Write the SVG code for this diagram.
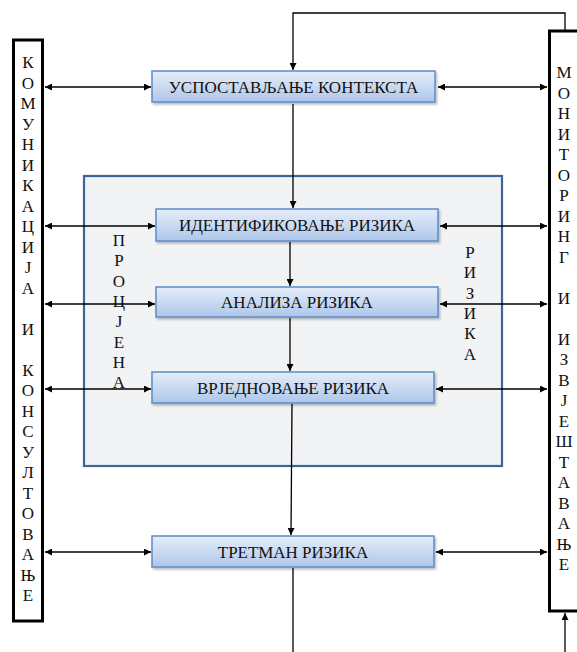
<svg xmlns="http://www.w3.org/2000/svg" width="577" height="652" viewBox="0 0 577 652">
<defs>
<linearGradient id="bg" x1="0" y1="0" x2="0" y2="1">
<stop offset="0" stop-color="#e6eef9"/>
<stop offset="1" stop-color="#adc6ea"/>
</linearGradient>
<filter id="sh" x="-5%" y="-20%" width="110%" height="150%">
<feDropShadow dx="1.5" dy="2" stdDeviation="1.2" flood-color="#000" flood-opacity="0.25"/>
</filter>
<marker id="ah" viewBox="0 0 10 10" refX="10" refY="5" markerWidth="9" markerHeight="7" markerUnits="userSpaceOnUse" orient="auto-start-reverse">
<path d="M0,0 L10,5 L0,10 z" fill="#000"/>
</marker>
</defs>
<style>
.box{fill:url(#bg);stroke:#5b8bc9;stroke-width:1.5;filter:url(#sh)}
.t{font-family:'Liberation Serif','DejaVu Serif',serif;font-size:17px;fill:#111;text-anchor:middle}
.v{font-family:'Liberation Serif','DejaVu Serif',serif;font-size:17px;fill:#111;text-anchor:middle}
.side{fill:#fff;stroke:#000;stroke-width:3}
.c{fill:none;stroke:#000;stroke-width:1.3}
</style>
<rect width="577" height="652" fill="#fff"/>

<g id="assessment">
<rect x="84" y="176" width="418" height="290" fill="#f2f3f5" stroke="#3d6597" stroke-width="2.2"/>
<text class="v" x="119" y="246"><tspan x="119" dy="0">П</tspan><tspan x="119" dy="20.3">Р</tspan><tspan x="119" dy="20.3">О</tspan><tspan x="119" dy="20.3">Ц</tspan><tspan x="119" dy="20.3">Ј</tspan><tspan x="119" dy="20.3">Е</tspan><tspan x="119" dy="20.3">Н</tspan><tspan x="119" dy="20.3">А</tspan></text>
<text class="v" x="470" y="258"><tspan x="470" dy="0">Р</tspan><tspan x="470" dy="20.3">И</tspan><tspan x="470" dy="20.3">З</tspan><tspan x="470" dy="20.3">И</tspan><tspan x="470" dy="20.3">К</tspan><tspan x="470" dy="20.3">А</tspan></text>
</g>

<g id="comm">
<rect class="side" x="13.5" y="40" width="29" height="581"/>
<text class="v" x="28" y="68"><tspan x="28" dy="0">К</tspan><tspan x="28" dy="20.5">О</tspan><tspan x="28" dy="20.5">М</tspan><tspan x="28" dy="20.5">У</tspan><tspan x="28" dy="20.5">Н</tspan><tspan x="28" dy="20.5">И</tspan><tspan x="28" dy="20.5">К</tspan><tspan x="28" dy="20.5">А</tspan><tspan x="28" dy="20.5">Ц</tspan><tspan x="28" dy="20.5">И</tspan><tspan x="28" dy="20.5">Ј</tspan><tspan x="28" dy="20.5">А</tspan><tspan x="28" dy="41">И</tspan><tspan x="28" dy="41">К</tspan><tspan x="28" dy="20.5">О</tspan><tspan x="28" dy="20.5">Н</tspan><tspan x="28" dy="20.5">С</tspan><tspan x="28" dy="20.5">У</tspan><tspan x="28" dy="20.5">Л</tspan><tspan x="28" dy="20.5">Т</tspan><tspan x="28" dy="20.5">О</tspan><tspan x="28" dy="20.5">В</tspan><tspan x="28" dy="20.5">А</tspan><tspan x="28" dy="20.5">Њ</tspan><tspan x="28" dy="20.5">Е</tspan></text>
</g>

<g id="monitor">
<rect class="side" x="549.5" y="31" width="40" height="580"/>
<text class="v" x="564" y="78"><tspan x="564" dy="0">М</tspan><tspan x="564" dy="20.5">О</tspan><tspan x="564" dy="20.5">Н</tspan><tspan x="564" dy="20.5">И</tspan><tspan x="564" dy="20.5">Т</tspan><tspan x="564" dy="20.5">О</tspan><tspan x="564" dy="20.5">Р</tspan><tspan x="564" dy="20.5">И</tspan><tspan x="564" dy="20.5">Н</tspan><tspan x="564" dy="20.5">Г</tspan><tspan x="564" dy="41">И</tspan><tspan x="564" dy="41">И</tspan><tspan x="564" dy="20.5">З</tspan><tspan x="564" dy="20.5">В</tspan><tspan x="564" dy="20.5">Ј</tspan><tspan x="564" dy="20.5">Е</tspan><tspan x="564" dy="20.5">Ш</tspan><tspan x="564" dy="20.5">Т</tspan><tspan x="564" dy="20.5">А</tspan><tspan x="564" dy="20.5">В</tspan><tspan x="564" dy="20.5">А</tspan><tspan x="564" dy="20.5">Њ</tspan><tspan x="564" dy="20.5">Е</tspan></text>
</g>

<g id="context">
<rect class="box" x="152" y="71" width="283" height="31"/>
<text class="t" x="293.5" y="92.5">УСПОСТАВЉАЊЕ КОНТЕКСТА</text>
</g>
<g id="identify">
<rect class="box" x="156" y="209" width="282" height="32"/>
<text class="t" x="297" y="231">ИДЕНТИФИКОВАЊЕ РИЗИКА</text>
</g>
<g id="analysis">
<rect class="box" x="156" y="287" width="282" height="30"/>
<text class="t" x="297" y="308">АНАЛИЗА РИЗИКА</text>
</g>
<g id="evaluation">
<rect class="box" x="152" y="372" width="282" height="31"/>
<text class="t" x="293" y="393.5">ВРЈЕДНОВАЊЕ РИЗИКА</text>
</g>
<g id="treatment">
<rect class="box" x="152" y="536" width="282" height="31"/>
<text class="t" x="293" y="557.5">ТРЕТМАН РИЗИКА</text>
</g>

<g id="connectors">
<polyline class="c" points="565,30 565,13 293,13 293,70" marker-end="url(#ah)"/>
<line class="c" x1="293" y1="104" x2="293" y2="208" marker-end="url(#ah)"/>
<line class="c" x1="290" y1="242" x2="290" y2="286" marker-end="url(#ah)"/>
<line class="c" x1="290" y1="318" x2="290" y2="371" marker-end="url(#ah)"/>
<line class="c" x1="292" y1="404" x2="291" y2="535" marker-end="url(#ah)"/>
<line class="c" x1="293" y1="568" x2="293" y2="652"/>
<line class="c" x1="565" y1="652" x2="565" y2="613" marker-end="url(#ah)"/>

<line class="c" x1="45" y1="87" x2="151" y2="87" marker-start="url(#ah)" marker-end="url(#ah)"/>
<line class="c" x1="45" y1="226" x2="155" y2="226" marker-start="url(#ah)" marker-end="url(#ah)"/>
<line class="c" x1="45" y1="304" x2="155" y2="304" marker-start="url(#ah)" marker-end="url(#ah)"/>
<line class="c" x1="45" y1="389" x2="151" y2="389" marker-start="url(#ah)" marker-end="url(#ah)"/>
<line class="c" x1="45" y1="552" x2="151" y2="552" marker-start="url(#ah)" marker-end="url(#ah)"/>

<line class="c" x1="438" y1="87" x2="547" y2="87" marker-start="url(#ah)" marker-end="url(#ah)"/>
<line class="c" x1="440" y1="226" x2="547" y2="226" marker-start="url(#ah)" marker-end="url(#ah)"/>
<line class="c" x1="440" y1="304" x2="547" y2="304" marker-start="url(#ah)" marker-end="url(#ah)"/>
<line class="c" x1="436" y1="389" x2="547" y2="389" marker-start="url(#ah)" marker-end="url(#ah)"/>
<line class="c" x1="436" y1="552" x2="547" y2="552" marker-start="url(#ah)" marker-end="url(#ah)"/>
</g>
</svg>
